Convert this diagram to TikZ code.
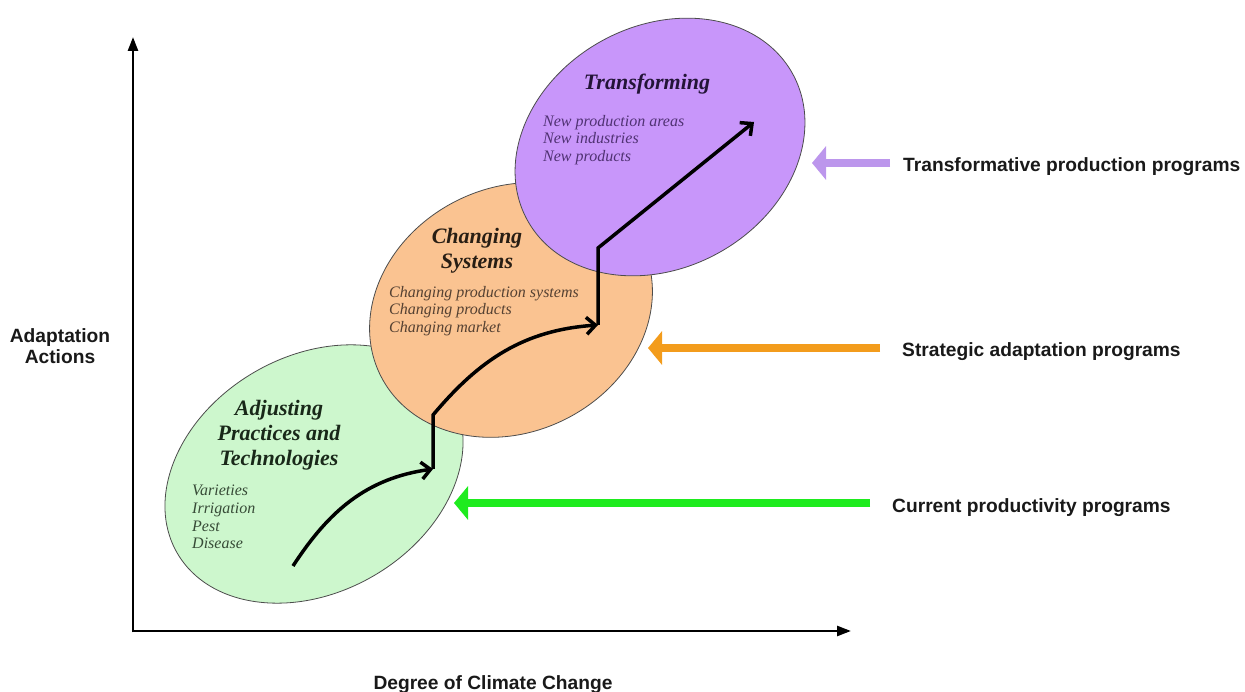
\documentclass[tikz,border=0pt]{standalone}
\usepackage{fontspec}
\setmainfont{Liberation Serif}
\setsansfont{Liberation Sans}
\usetikzlibrary{shapes.geometric,arrows.meta}

\definecolor{adjfill}{RGB}{205,247,205}
\definecolor{chgfill}{RGB}{250,195,145}
\definecolor{trffill}{RGB}{200,150,250}
\definecolor{adjarrow}{RGB}{30,235,30}
\definecolor{chgarrow}{RGB}{243,156,28}
\definecolor{trfarrow}{RGB}{188,150,236}
\definecolor{adjtext}{RGB}{55,75,55}
\definecolor{chgtext}{RGB}{85,65,50}
\definecolor{trftext}{RGB}{80,50,115}
\definecolor{adjhead}{RGB}{25,40,25}
\definecolor{chghead}{RGB}{40,30,20}
\definecolor{trfhead}{RGB}{35,20,55}

\tikzset{
  blob/.style={ellipse,draw=black!70,line width=0.8pt,inner sep=0pt},
  heading/.style={font=\fontsize{22}{25}\selectfont\bfseries\itshape,align=center,inner sep=0pt},
  items/.style={font=\fontsize{16}{17.8}\selectfont\itshape,align=left,inner sep=0pt,anchor=west},
  sidetext/.style={font=\sffamily\bfseries\fontsize{19.2}{21.5}\selectfont,inner sep=0pt,text=black!90},
  program/.style={line width=8pt,-{Triangle[length=14pt,width=33pt]}},
  trend/.style={line width=3.5pt,-{Straight Barb[length=9pt,width=17pt]}},
  axisline/.style={line width=2.5pt,-{Triangle[length=14pt,width=10pt]}},
}

\begin{document}
\begin{tikzpicture}[x=1pt,y=1pt]
\useasboundingbox (0,0) rectangle (1245,691);

% axes
\coordinate (Origin) at (133,60);
\coordinate (Ytop) at (133,654);
\coordinate (Xend) at (851,60);
\draw[axisline] ([yshift=-1.25pt]Origin) -- (Ytop);
\draw[axisline] (Origin) -- (Xend);
\node[sidetext,align=center] (yname) at (60,345) {Adaptation\\Actions};
\node[sidetext,anchor=base] (xname) at (493,2) {Degree of Climate Change};

% the three stages, back to front
\node[blob,fill=adjfill,minimum width=316pt,minimum height=236pt,rotate=30] (adjust) at (314,217) {};
\node[blob,fill=chgfill,minimum width=292pt,minimum height=244pt,rotate=27] (change) at (511,381) {};
\node[blob,fill=trffill,minimum width=303pt,minimum height=242pt,rotate=29] (transform) at (660,544) {};

\node[heading,text=adjhead] (adjusthead) at (279,256) {Adjusting\\Practices and\\Technologies};
\node[heading,text=chghead] (changehead) at (477,440) {Changing\\Systems};
\node[heading,text=trfhead,anchor=base] (transformhead) at (647,601) {Transforming};

\node[items,text=adjtext] (adjustitems) at (192,174) {Varieties\\Irrigation\\Pest\\Disease};
\node[items,text=chgtext] (changeitems) at (389,380) {Changing production systems\\Changing products\\Changing market};
\node[items,text=trftext] (transformitems) at (543,551) {New production areas\\New industries\\New products};

% stepped path through the stages
\coordinate (t0) at (293,125);
\coordinate (t1) at (433,222);
\coordinate (t2) at (433,276);
\coordinate (t3) at (598,366);
\coordinate (t4) at (598,443);
\coordinate (t5) at (754,569);
\draw[trend] (t0) to[out=57,in=188] (t1);
\draw[trend] (t1) -- (t2) to[out=50,in=184] (t3);
\draw[trend] (t3) -- (t4) -- (t5);

% programs on the right
\coordinate (trfstart) at (890,528);
\coordinate (trftip) at (812,528);
\coordinate (chgstart) at (880,343);
\coordinate (chgtip) at (648,343);
\coordinate (adjstart) at (870,188);
\coordinate (adjtip) at (454,188);
\draw[program,trfarrow] (trfstart) -- (trftip);
\draw[program,chgarrow] (chgstart) -- (chgtip);
\draw[program,adjarrow] (adjstart) -- (adjtip);

\node[sidetext,anchor=base west] (trflabel) at (903,519) {Transformative production programs};
\node[sidetext,anchor=base west] (chglabel) at (902,334) {Strategic adaptation programs};
\node[sidetext,anchor=base west] (adjlabel) at (892,178) {Current productivity programs};
\end{tikzpicture}
\end{document}
